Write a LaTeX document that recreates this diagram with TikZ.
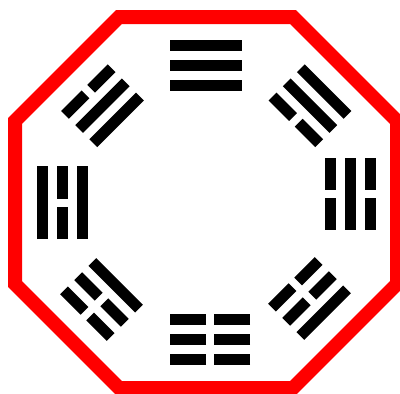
\documentclass[tikz,border=0pt]{standalone}
\usepackage{tikz}

\newcommand{\yaoline}[4]{%
  \ifnum#2=1
    \draw[yao] (-#3,#1) -- (#3,#1);
  \else
    \draw[yao] (-#3,#1) -- (-#4/2,#1);
    \draw[yao] (#4/2,#1) -- (#3,#1);
  \fi}

\begin{document}
\begin{tikzpicture}[
  x=1pt, y=-1pt,
  frame/.style={draw=red, line width=14pt, line join=miter},
  yao/.style={draw=black, line width=11pt}
]
\useasboundingbox (0,0) rectangle (400,394);
\draw[frame] (119,17) -- (293,17) -- (397,121) -- (397,284) -- (293,388)
  -- (119,388) -- (15,284) -- (15,121) -- cycle;

% angle / centre of middle line / half length / gap / inner, middle, outer
\foreach \ang/\cx/\cy/\hl/\gp/\inn/\mid/\out in {
    0/206/65.5/36/8/1/1/1,
    45/102.5/105.7/33/8/1/1/0,
    90/62/202.7/36.5/8.4/1/0/1,
    135/101.5/299.5/33/8/1/0/0,
    180/210/339.5/40/8/0/0/0,
    225/309.5/298.5/33/8/0/0/1,
    270/350/194/36/8.3/0/1/0,
    315/310/105.7/33/8/0/1/1}{
  \begin{scope}[shift={(\cx,\cy)}, rotate=\ang]
    \yaoline{20}{\inn}{\hl}{\gp}
    \yaoline{0}{\mid}{\hl}{\gp}
    \yaoline{-20}{\out}{\hl}{\gp}
  \end{scope}
}
\end{tikzpicture}
\end{document}
